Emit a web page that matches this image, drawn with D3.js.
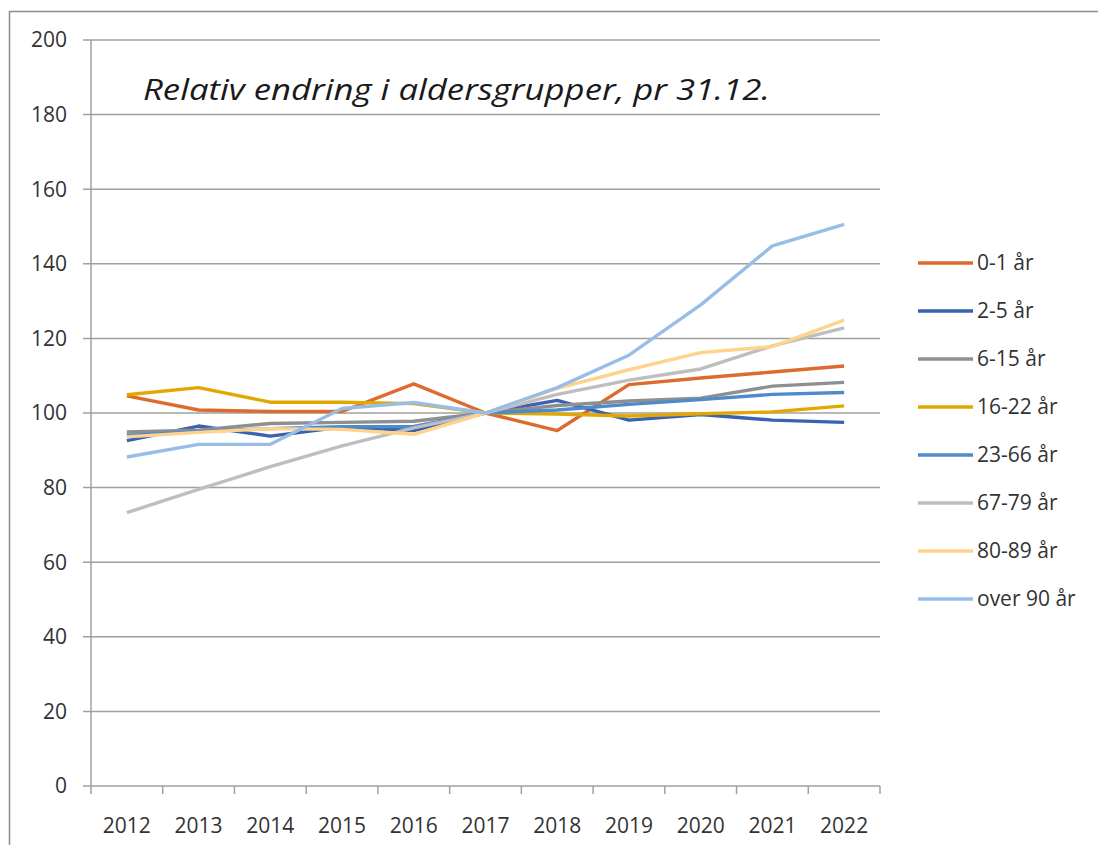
<!DOCTYPE html>
<html>
<head>
<meta charset="utf-8">
<script src="https://cdn.jsdelivr.net/npm/d3@7"></script>
<style>
  body { margin: 0; background: #fff; }
  text { font-family: "Open Sans", "Noto Sans", sans-serif; fill: #333; }
</style>
</head>
<body>
<div id="chart"></div>
<script>
// chart data
const years = ["2012", "2013", "2014", "2015", "2016", "2017", "2018", "2019", "2020", "2021", "2022"];
const groups = ["0-1 år", "2-5 år", "6-15 år", "16-22 år", "23-66 år", "67-79 år", "80-89 år", "over 90 år"];
const age0_1   = [104.6, 100.8, 100.4, 100.4, 107.8, 100, 95.3, 107.6, 109.4, 111.0, 112.6];
const age2_5   = [92.6, 96.5, 93.8, 96.2, 95.3, 100, 103.4, 98.1, 99.6, 98.1, 97.5];
const age6_15  = [94.9, 95.4, 97.2, 97.5, 97.8, 100, 102.0, 103.2, 104.0, 107.2, 108.2];
const age16_22 = [104.9, 106.8, 102.9, 102.9, 102.5, 100, 99.7, 99.2, 99.8, 100.3, 101.9];
const age23_66 = [94.0, 95.0, 95.8, 96.3, 96.4, 100, 100.8, 102.3, 103.6, 105.0, 105.5];
const age67_79 = [73.3, 79.5, 85.6, 91.2, 96.0, 100, 105.0, 108.8, 111.8, 118.0, 122.8];
const age80_89 = [93.6, 94.8, 95.8, 95.6, 94.3, 100, 106.6, 111.6, 116.2, 117.8, 124.9];
const age90    = [88.2, 91.6, 91.6, 101.2, 102.8, 100, 106.8, 115.5, 129.0, 144.8, 150.6];
const yTicks = [0, 20, 40, 60, 80, 100, 120, 140, 160, 180, 200];
const colors = ["#DD6B2D", "#3A62B2", "#8F8F8F", "#E0A800", "#4D8BCB", "#BEBEBE", "#FFD38C", "#98BDE7"];

const seriesValues = [age0_1, age2_5, age6_15, age16_22, age23_66, age67_79, age80_89, age90];
const series = groups.map((g, i) => ({ name: g, color: colors[i], values: seriesValues[i] }));

const width = 1098, height = 845;
const plot = { left: 91, right: 880, top: 40, bottom: 786 };

const svg = d3.select("#chart").append("svg")
    .attr("width", width)
    .attr("height", height);

// outer frame
svg.append("rect")
    .attr("x", 9.5).attr("y", 11.5)
    .attr("width", 1100).attr("height", 900)
    .attr("fill", "none")
    .attr("stroke", "#8c8c8c")
    .attr("stroke-width", 1.5);

const x = d3.scaleBand().domain(years).range([plot.left, plot.right]);
const y = d3.scaleLinear().domain([0, 200]).range([plot.bottom, plot.top]);

// horizontal gridlines
svg.append("g")
    .selectAll("line")
    .data(yTicks)
    .enter().append("line")
    .attr("x1", plot.left - 8)
    .attr("x2", plot.right)
    .attr("y1", d => y(d))
    .attr("y2", d => y(d))
    .attr("stroke", "#a0a0a0")
    .attr("stroke-width", 1.5);

// y axis line + labels
svg.append("line")
    .attr("x1", plot.left).attr("x2", plot.left)
    .attr("y1", plot.top).attr("y2", plot.bottom)
    .attr("stroke", "#a0a0a0")
    .attr("stroke-width", 1.5);

svg.append("g")
    .selectAll("text")
    .data(yTicks)
    .enter().append("text")
    .attr("x", 67)
    .attr("y", d => y(d))
    .attr("dy", "0.35em")
    .attr("text-anchor", "end")
    .style("font-size", "21px")
    .text(d => d);

// x axis ticks + labels
const xEdges = years.map(d => x(d)).concat([plot.right]);
svg.append("g")
    .selectAll("line")
    .data(xEdges)
    .enter().append("line")
    .attr("x1", d => d).attr("x2", d => d)
    .attr("y1", plot.bottom).attr("y2", plot.bottom + 8)
    .attr("stroke", "#a0a0a0")
    .attr("stroke-width", 1.5);

svg.append("g")
    .selectAll("text")
    .data(years)
    .enter().append("text")
    .attr("x", d => x(d) + x.bandwidth() / 2)
    .attr("y", 833)
    .attr("text-anchor", "middle")
    .style("font-size", "21px")
    .text(d => d);

// lines
const line = d3.line()
    .x((d, i) => x(years[i]) + x.bandwidth() / 2)
    .y(d => y(d));

svg.append("g")
    .selectAll("path")
    .data(series)
    .enter().append("path")
    .attr("d", d => line(d.values))
    .attr("fill", "none")
    .attr("stroke", d => d.color)
    .attr("stroke-width", 3.4)
    .attr("stroke-linejoin", "round");

// title
svg.append("text")
    .attr("x", 143)
    .attr("y", 100)
    .attr("textLength", 627)
    .attr("lengthAdjust", "spacingAndGlyphs")
    .style("font-size", "30px")
    .style("font-style", "italic")
    .style("fill", "#1a1a1a")
    .text("Relativ endring i aldersgrupper, pr 31.12.");

// legend
const legend = svg.append("g")
    .selectAll("g")
    .data(series)
    .enter().append("g")
    .attr("transform", (d, i) => `translate(918, ${263 + i * 48})`);

legend.append("line")
    .attr("x1", 0).attr("x2", 55)
    .attr("stroke", d => d.color)
    .attr("stroke-width", 3.4);

legend.append("text")
    .attr("x", 59)
    .attr("dy", "0.35em")
    .style("font-size", "21px")
    .text(d => d.name);
</script>
</body>
</html>
